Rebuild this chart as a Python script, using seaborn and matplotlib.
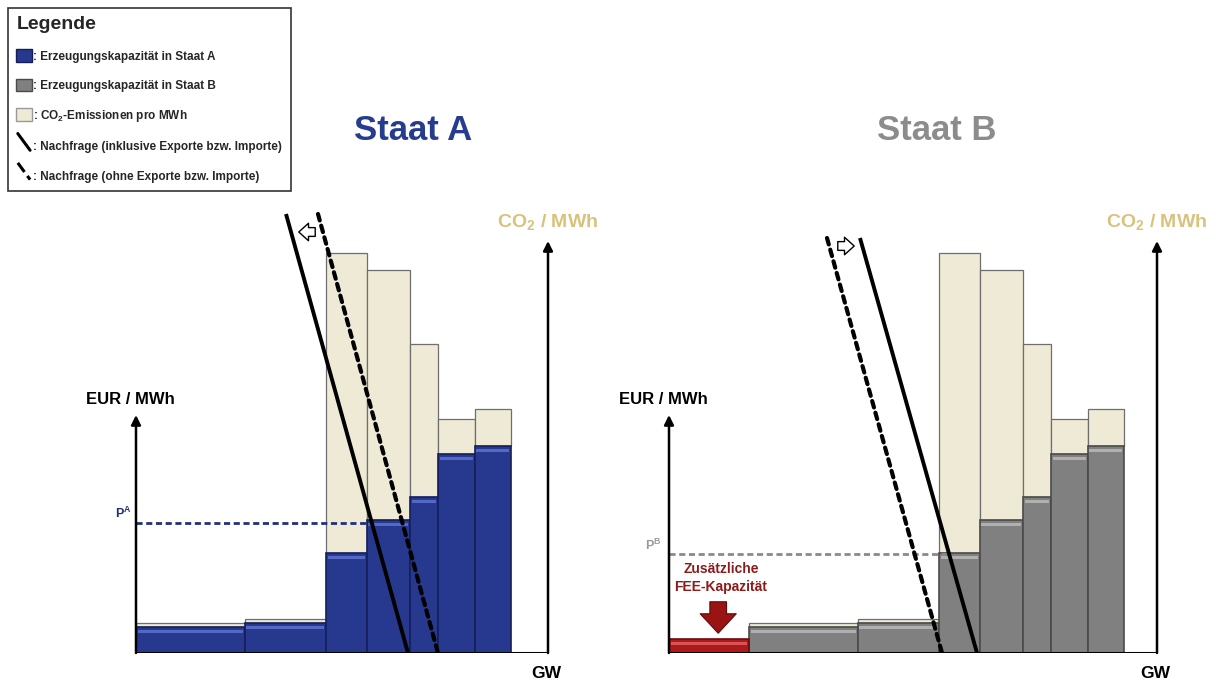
import numpy as np
import seaborn as sns
import matplotlib.pyplot as plt
from matplotlib.lines import Line2D
from matplotlib.patches import Patch
from matplotlib.legend_handler import HandlerBase

# merit order data (GW widths, EUR/MWh prices, CO2 stacked on top)
cap_gw = [27.2, 20.3, 10.2, 10.8, 7.0, 9.2, 9.0]
price_eur = [13, 15, 50, 66.5, 78, 99.5, 103.5]
co2_mwh = [2, 2, 150, 125, 76.5, 17.5, 18.5]

fee_gw = 20
fee_price = 7

# demand curves: (GW at top, GW at zero), price at top
demand_a_incl = [37.5, 68.0]
demand_a_excl = [45.5, 75.5]
demand_a_y = [219.5, 0]
demand_b_incl = [47.75, 77.0]
demand_b_excl = [39.5, 68.25]
demand_b_y = [207.5, 0]

price_a = 65
price_b = 49.5

co2_axis_a = 103
co2_axis_b = 122
eur_axis_top = 119
co2_axis_top = 206

blue = "#26398f"
blue_edge = "#141f5a"
blue_hi = "#5568c4"
grey = "#808080"
grey_edge = "#4a4a4a"
grey_hi = "#b0b0b0"
cream = "#eeead6"
red = "#b0191c"
darkred = "#8e1a1a"
tan = "#d9c27c"

sns.set_theme(style="white")
plt.rcParams["font.family"] = ["Liberation Sans", "DejaVu Sans"]
plt.rcParams["mathtext.fontset"] = "custom"
plt.rcParams["mathtext.rm"] = "Liberation Sans"
plt.rcParams["mathtext.bf"] = "Liberation Sans:bold"

W, H = 1216, 684
fig = plt.figure(figsize=(12.16, 6.84), dpi=100)


def make_axes(x0, w):
    ax = fig.add_axes([x0 / W, 31 / H, w / W, 453 / H])
    ax.set_xlim(0, w / 4)
    ax.set_ylim(0, 226.5)
    ax.axis("off")
    return ax


def bars(ax, left, widths, prices, face, edge, hi):
    left = np.asarray(left, float)
    widths = np.asarray(widths, float)
    prices = np.asarray(prices, float)
    ax.bar(left, prices, width=widths, align="edge", color=face,
           edgecolor=edge, linewidth=1.2, zorder=2)
    ax.bar(left + 0.4, 1.3, bottom=prices - 2.8, width=widths - 0.8,
           align="edge", color=hi, linewidth=0, zorder=3)


def frame(ax, co2_x):
    arrow = dict(arrowstyle="-|>", lw=1.8, color="black", mutation_scale=14,
                 shrinkA=0, shrinkB=0)
    ax.annotate("", xy=(0, eur_axis_top), xytext=(0, 0), arrowprops=arrow,
                annotation_clip=False, zorder=6)
    ax.annotate("", xy=(co2_x, co2_axis_top), xytext=(co2_x, 0),
                arrowprops=arrow, annotation_clip=False, zorder=6)
    ax.plot([0, co2_x], [0, 0], color="black", lw=2.2, zorder=6,
            solid_capstyle="butt")
    ax.text(-1.5, 127, "EUR / MWh", ha="center", va="center", fontsize=12,
            fontweight="bold", color="black")
    ax.text(co2_x, 215, r"CO$_{\mathbf{2}}$ / MWh", ha="center",
            va="center", fontsize=14, fontweight="bold", color=tan)
    ax.text(co2_x - 0.5, -10, "GW", ha="center", va="center", fontsize=12.5,
            fontweight="bold", color="black")


def demand(ax, incl, excl, ys):
    sns.lineplot(x=incl, y=ys, ax=ax, color="black", lw=2.8, zorder=5,
                 solid_capstyle="butt")
    sns.lineplot(x=excl, y=ys, ax=ax, color="black", lw=3.0, zorder=5,
                 linestyle=(0, (1.6, 1.3)), dash_capstyle="round")


def cross(incl, ys, p):
    # GW where the demand line reaches price p
    return incl[1] + (incl[0] - incl[1]) * p / ys[0]


# ---------- Staat A ----------
ax_a = make_axes(136, 430)
left_a = np.concatenate([[0], np.cumsum(cap_gw)[:-1]])
ax_a.bar(left_a, co2_mwh, bottom=price_eur, width=cap_gw, align="edge",
         color=cream, edgecolor="#6e6e6e", linewidth=0.9, zorder=1)
bars(ax_a, left_a, cap_gw, price_eur, blue, blue_edge, blue_hi)
frame(ax_a, co2_axis_a)
demand(ax_a, demand_a_incl, demand_a_excl, demand_a_y)
sns.lineplot(x=[0, cross(demand_a_incl, demand_a_y, price_a)],
             y=[price_a, price_a], ax=ax_a, color="#22307a", lw=2.0,
             linestyle=(0, (2.2, 1.3)), zorder=4)
ax_a.text(-1.2, price_a + 1, r"$\mathbf{P^{A}}$", ha="right", va="bottom",
          fontsize=9, color="#22307a")
ax_a.annotate("", xy=(40, 210.5), xytext=(45.5, 210.5),
              arrowprops=dict(arrowstyle="simple,head_length=0.5,head_width=0.9,tail_width=0.45",
                              fc="white", ec="black", lw=1.0, mutation_scale=14))

# ---------- Staat B ----------
ax_b = make_axes(669, 510)
cap_b = [fee_gw] + cap_gw
left_b = np.concatenate([[0], np.cumsum(cap_b)[:-1]])
ax_b.bar(left_b[1:], co2_mwh, bottom=price_eur, width=cap_gw, align="edge",
         color=cream, edgecolor="#6e6e6e", linewidth=0.9, zorder=1)
bars(ax_b, left_b[1:], cap_gw, price_eur, grey, grey_edge, grey_hi)
bars(ax_b, [0], [fee_gw], [fee_price], red, "#6a0c0c", "#d65555")
frame(ax_b, co2_axis_b)
demand(ax_b, demand_b_incl, demand_b_excl, demand_b_y)
sns.lineplot(x=[0, cross(demand_b_incl, demand_b_y, price_b)],
             y=[price_b, price_b], ax=ax_b, color="#8a8a8a", lw=2.0,
             linestyle=(0, (2.2, 1.3)), zorder=4)
ax_b.text(-1.8, price_b + 0.5, r"$\mathbf{P^{B}}$", ha="right", va="bottom",
          fontsize=9, color="#9a9a9a")
ax_b.annotate("", xy=(47, 203.5), xytext=(41.5, 203.5),
              arrowprops=dict(arrowstyle="simple,head_length=0.5,head_width=0.9,tail_width=0.45",
                              fc="white", ec="black", lw=1.0, mutation_scale=14))
ax_b.text(13, 37.5, "Zusätzliche\nFEE-Kapazität", ha="center", va="center",
          fontsize=10, fontweight="bold", color=darkred, linespacing=1.3)
ax_b.annotate("", xy=(12.3, 8.5), xytext=(12.3, 27),
              arrowprops=dict(arrowstyle="simple,head_length=0.7,head_width=1.3,tail_width=0.6",
                              fc="#9a1414", ec="#5e0b0b", lw=0.8, mutation_scale=20),
              annotation_clip=False)

# titles
fig.text(413 / W, 1 - 131 / H, "Staat A", ha="center", va="center",
         fontsize=25, fontweight="bold", color="#263d8e")
fig.text(937 / W, 1 - 131 / H, "Staat B", ha="center", va="center",
         fontsize=25, fontweight="bold", color="#8c8c8c")


# legend with diagonal line handles
class DiagHandler(HandlerBase):
    def create_artists(self, legend, orig, xd, yd, width, height, fontsize, trans):
        ln = Line2D([xd + 0.1 * width, xd + 0.9 * width],
                    [yd + height * 1.1, yd - height * 0.2],
                    color="black", lw=orig.get_linewidth(),
                    linestyle=orig.get_linestyle(), transform=trans)
        return [ln]


handles = [
    Patch(facecolor=blue, edgecolor=blue_edge),
    Patch(facecolor=grey, edgecolor=grey_edge),
    Patch(facecolor=cream, edgecolor="#999999"),
    Line2D([], [], color="black", lw=2.2),
    Line2D([], [], color="black", lw=2.2, linestyle=(0, (1.2, 1.2))),
]
labels = [
    ": Erzeugungskapazität in Staat A",
    ": Erzeugungskapazität in Staat B",
    r": CO$_{\mathbf{2}}$-Emissionen pro MWh",
    ": Nachfrage (inklusive Exporte bzw. Importe)",
    ": Nachfrage (ohne Exporte bzw. Importe)",
]
leg = fig.legend(handles, labels, loc="upper left",
                 bbox_to_anchor=(8 / W, 1 - 8 / H), borderaxespad=0,
                 title="Legende",
                 title_fontproperties={"weight": "bold", "size": 14},
                 alignment="left", prop={"weight": "bold", "size": 8.5},
                 frameon=True, fancybox=False, edgecolor="black",
                 labelspacing=1.35, handlelength=1.3, handleheight=1.3,
                 handletextpad=0.15, borderpad=0.7,
                 handler_map={Line2D: DiagHandler()})
leg.get_frame().set_linewidth(1.2)

fig.savefig("out.png", dpi=100, facecolor="white")
